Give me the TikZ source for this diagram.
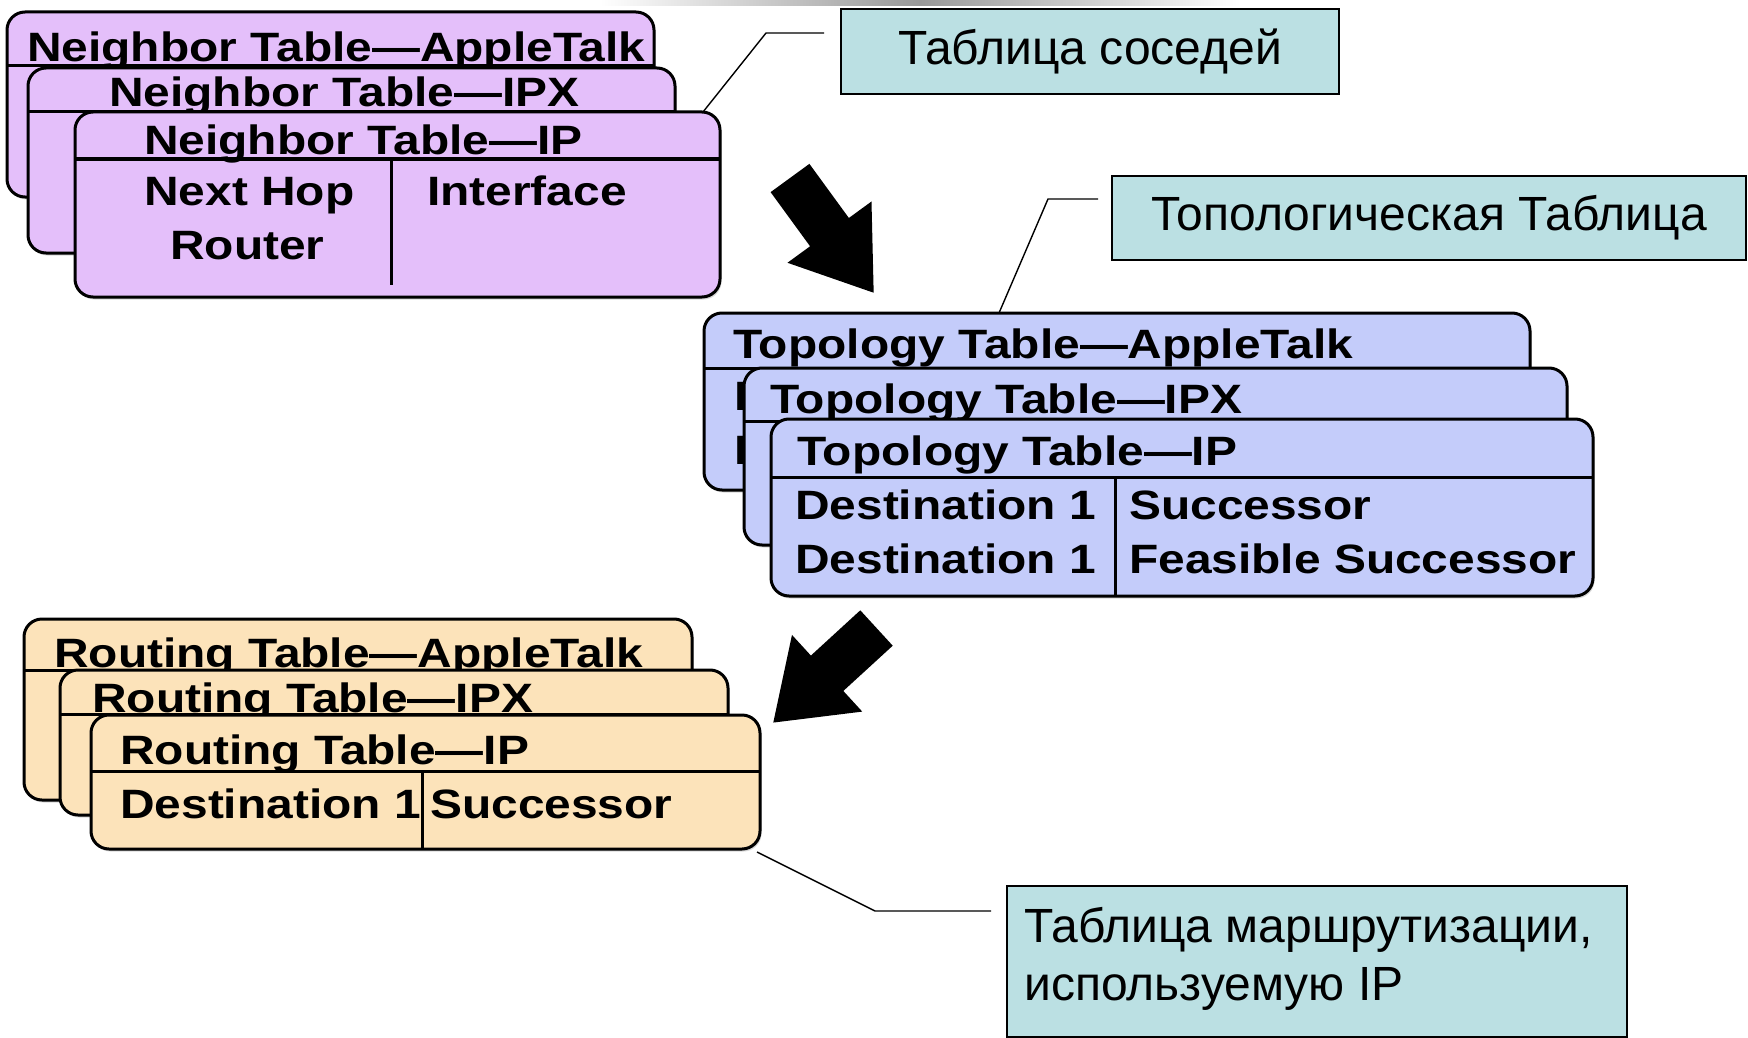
\documentclass[tikz,border=0pt]{standalone}
\usepackage{fontspec}
\setmainfont{Liberation Sans}
\newfontfamily\tabfont[FakeStretch=1.168]{Liberation Sans}
\usetikzlibrary{shadows}

\definecolor{nbrfill}{HTML}{E4BFFA}
\definecolor{topofill}{HTML}{C4CCFA}
\definecolor{routefill}{HTML}{FCE3BA}
\definecolor{notefill}{HTML}{BBE0E3}

\tikzset{
  tablebox/.style={draw=black, line width=3pt, rounded corners=18pt,
    inner sep=0pt, outer sep=0pt, anchor=north west,
    drop shadow={shadow xshift=1.5pt, shadow yshift=-2.5pt, opacity=0.3}},
  tablerule/.style={line width=3pt},
  tabtext/.style={anchor=base west, inner sep=0pt,
    font=\tabfont\bfseries\fontsize{41}{49}\selectfont},
  notebox/.style={draw=black, line width=2pt, fill=notefill, inner sep=0pt,
    outer sep=0pt, anchor=north west, font=\fontsize{48}{58}\selectfont},
  notetext/.style={anchor=base west, inner sep=0pt, font=\fontsize{48}{58}\selectfont},
  leader/.style={line width=1.4pt},
  blockarrow/.style={fill=black},
}

\begin{document}
\begin{tikzpicture}[x=1pt, y=-1pt]
  \useasboundingbox (0,0) rectangle (1748,1038);
  \fill[white] (0,0) rectangle (1748,1038);
  \shade[left color=white, right color=white, middle color=black!40] (600,0) rectangle (1240,6);

  % ---------- neighbor tables ----------
  \node[tablebox, fill=nbrfill, minimum width=647pt, minimum height=185pt] (na) at (7,12) {};
  \draw[tablerule] ([yshift=-54pt]na.north west) -- ([yshift=-54pt]na.north east);
  \node[tabtext] (naT) at (27,62) {Neighbor Table—AppleTalk};

  \node[tablebox, fill=nbrfill, minimum width=647pt, minimum height=185pt] (nx) at (28,68) {};
  \draw[tablerule] ([yshift=-44pt]nx.north west) -- ([yshift=-44pt]nx.north east);
  \node[tabtext] (nxT) at (109,107) {Neighbor Table—IPX};

  \node[tablebox, fill=nbrfill, minimum width=645pt, minimum height=185pt] (ni) at (75,112) {};
  \draw[tablerule] ([yshift=-47pt]ni.north west) -- ([yshift=-47pt]ni.north east);
  \draw[tablerule] ([xshift=316pt, yshift=-47pt]ni.north west) -- ([xshift=316pt, yshift=12pt]ni.south west);
  \node[tabtext] (niT) at (144,154) {Neighbor Table—IP};
  \node[tabtext] (niA) at (144,205) {Next Hop};
  \node[tabtext] (niB) at (170,259) {Router};
  \node[tabtext] (niC) at (427,205) {Interface};

  % ---------- topology tables ----------
  \node[tablebox, fill=topofill, minimum width=826pt, minimum height=177pt] (ta) at (704,313) {};
  \draw[tablerule] ([yshift=-55pt]ta.north west) -- ([yshift=-55pt]ta.north east);
  \node[tabtext] (taT) at (733,358) {Topology Table—AppleTalk};
  \node[tabtext] (taA) at (734,410) {Destination 1};
  \node[tabtext] (taB) at (734,464) {Destination 1};

  \node[tablebox, fill=topofill, minimum width=823pt, minimum height=177pt] (tx) at (744,368) {};
  \draw[tablerule] ([yshift=-53pt]tx.north west) -- ([yshift=-53pt]tx.north east);
  \node[tabtext] (txT) at (770,413) {Topology Table—IPX};

  \node[tablebox, fill=topofill, minimum width=822pt, minimum height=177pt] (ti) at (771,419) {};
  \draw[tablerule] ([yshift=-58pt]ti.north west) -- ([yshift=-58pt]ti.north east);
  \draw[tablerule] ([xshift=344pt, yshift=-58pt]ti.north west) -- ([xshift=344pt]ti.south west);
  \node[tabtext] (tiT) at (797,465) {Topology Table—IP};
  \node[tabtext] (tiA) at (795,519) {Destination 1};
  \node[tabtext] (tiB) at (795,573) {Destination 1};
  \node[tabtext] (tiC) at (1129,519) {Successor};
  \node[tabtext] (tiD) at (1129,573) {Feasible Successor};

  % ---------- routing tables ----------
  \node[tablebox, fill=routefill, minimum width=668pt, minimum height=181pt] (ra) at (24,619) {};
  \draw[tablerule] ([yshift=-51pt]ra.north west) -- ([yshift=-51pt]ra.north east);
  \node[tabtext] (raT) at (54,667) {Routing Table—AppleTalk};

  \node[tablebox, fill=routefill, minimum width=668pt, minimum height=145pt] (rx) at (60,670) {};
  \draw[tablerule] ([yshift=-44pt]rx.north west) -- ([yshift=-44pt]rx.north east);
  \node[tabtext] (rxT) at (92,712) {Routing Table—IPX};

  \node[tablebox, fill=routefill, minimum width=669pt, minimum height=134pt] (ri) at (91,715) {};
  \draw[tablerule] ([yshift=-56pt]ri.north west) -- ([yshift=-56pt]ri.north east);
  \draw[tablerule] ([xshift=331pt, yshift=-56pt]ri.north west) -- ([xshift=331pt]ri.south west);
  \node[tabtext] (riT) at (120,764) {Routing Table—IP};
  \node[tabtext] (riA) at (120,818) {Destination 1};
  \node[tabtext] (riB) at (430,818) {Successor};

  % ---------- block arrows between the table groups ----------
  \begin{scope}[shift={(790,178)}, rotate=-53.9]
    \fill[blockarrow] (0,-24) -- (67,-24) -- (67,-52) -- (142,0) -- (67,52) -- (67,24) -- (0,24) -- cycle;
  \end{scope}
  \begin{scope}[shift={(876.5,628)}, rotate=-137.5]
    \fill[blockarrow] (0,-24) -- (67,-24) -- (67,-52) -- (140,0) -- (67,52) -- (67,24) -- (0,24) -- cycle;
  \end{scope}

  % ---------- callouts ----------
  \node[notebox, minimum width=498pt, minimum height=85pt] (nc) at (841,9) {Таблица соседей};
  \node[notebox, minimum width=634pt, minimum height=84pt] (tc) at (1112,176) {Топологическая Таблица};
  \node[notebox, minimum width=620pt, minimum height=151pt] (rc) at (1007,886) {};
  \node[notetext] (rc1) at (1024,942) {Таблица маршрутизации,};
  \node[notetext] (rc2) at (1024,1000) {используемую IP};

  % ---------- leader lines ----------
  \coordinate (l1b) at (766,33);
  \coordinate (l1c) at (824,33);
  \draw[leader] ([xshift=-17pt]ni.north east) -- (l1b) -- (l1c);

  \coordinate (l2b) at (1048,199);
  \coordinate (l2c) at (1098,199);
  \draw[leader] ([xshift=295pt]ta.north west) -- (l2b) -- (l2c);

  \coordinate (l3b) at (875,911);
  \coordinate (l3c) at (991,911);
  \draw[leader] ([xshift=-3pt, yshift=-3pt]ri.south east) -- (l3b) -- (l3c);
\end{tikzpicture}
\end{document}
